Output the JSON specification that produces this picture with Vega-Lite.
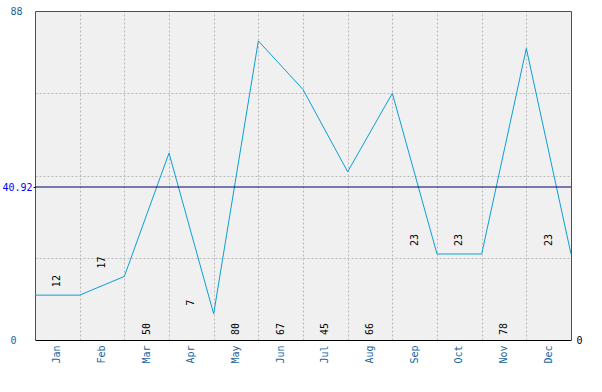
{
  "$schema": "https://vega.github.io/schema/vega-lite/v6.json",
  "width": 536,
  "height": 329,
  "autosize": {"type": "none"},
  "padding": {"left": 35, "top": 11, "right": 31, "bottom": 52},
  "config": {
    "font": "DejaVu Sans Mono",
    "view": {"fill": "#f0f0f0", "stroke": null},
    "axis": {"labelFont": "DejaVu Sans Mono", "labelFontSize": 10, "title": null}
  },
  "datasets": {
    "months": [
      {"month": "Jan", "v": 12}, {"month": "Feb", "v": 17}, {"month": "Mar", "v": 50},
      {"month": "Apr", "v": 7}, {"month": "May", "v": 80}, {"month": "Jun", "v": 67},
      {"month": "Jul", "v": 45}, {"month": "Aug", "v": 66}, {"month": "Sep", "v": 23},
      {"month": "Oct", "v": 23}, {"month": "Nov", "v": 78}, {"month": "Dec", "v": 23}
    ],
    "line": [
      {"x": 0, "v": 12}, {"x": 1, "v": 12}, {"x": 2, "v": 17}, {"x": 3, "v": 50},
      {"x": 4, "v": 7}, {"x": 5, "v": 80}, {"x": 6, "v": 67}, {"x": 7, "v": 45},
      {"x": 8, "v": 66}, {"x": 9, "v": 23}, {"x": 10, "v": 23}, {"x": 11, "v": 78},
      {"x": 12, "v": 23}
    ],
    "mean": [{"mean": 40.92}]
  },
  "layer": [
    {
      "data": {"name": "line"},
      "mark": {"type": "line", "color": "#0a9fd4", "strokeWidth": 1},
      "encoding": {
        "x": {
          "field": "x", "type": "quantitative",
          "scale": {"domain": [0, 12], "nice": false, "zero": false},
          "axis": {
            "orient": "top", "values": [1, 2, 3, 4, 5, 6, 7, 8, 9, 10, 11],
            "grid": true, "gridDash": [2, 2], "gridColor": "#b8b8b8",
            "labels": false, "ticks": false, "domainColor": "#1a5f8c"
          }
        },
        "y": {
          "field": "v", "type": "quantitative",
          "scale": {"domain": [0, 88], "nice": false},
          "axis": {
            "orient": "left",
            "values": [0, 22, 44, 66, 88],
            "labelExpr": "datum.value == 0 || datum.value == 88 ? datum.label : ''",
            "labelAlign": "left",
            "labelBaseline": "middle",
            "labelPadding": 25,
            "labelColor": "#16659c",
            "ticks": false,
            "grid": true,
            "gridDash": [2, 2],
            "gridColor": "#b8b8b8",
            "gridOpacity": {"condition": {"test": "datum.value == 22 || datum.value == 44 || datum.value == 66", "value": 1}, "value": 0},
            "domainColor": "#1a5f8c"
          }
        }
      }
    },
    {
      "data": {"name": "mean"},
      "mark": {"type": "rule", "color": "#000066", "strokeWidth": 1},
      "encoding": {
        "y": {
          "field": "mean", "type": "quantitative",
          "axis": {
            "orient": "left", "values": [40.92], "format": ".2f", "labelColor": "#0000ee",
            "labelAlign": "right", "labelBaseline": "middle", "labelPadding": 1,
            "ticks": true, "tickSize": 2, "tickColor": "#000066",
            "domain": false, "grid": false
          }
        }
      }
    },
    {
      "data": {"name": "months"},
      "transform": [{"filter": "datum.v <= 40.92"}],
      "mark": {"type": "text", "angle": -90, "align": "left", "baseline": "middle", "dx": 8, "fontSize": 10, "color": "#000000"},
      "encoding": {
        "x": {
          "field": "month", "type": "ordinal", "bandPosition": 0.5, "sort": null,
          "scale": {"type": "band", "domain": ["Jan", "Feb", "Mar", "Apr", "May", "Jun", "Jul", "Aug", "Sep", "Oct", "Nov", "Dec"], "paddingInner": 0, "paddingOuter": 0},
          "axis": {
            "orient": "bottom", "labelAngle": -90, "labelAlign": "right", "labelBaseline": "middle",
            "labelPadding": 5, "labelColor": "#16659c", "ticks": false, "grid": false,
            "domainColor": "#000000"
          }
        },
        "y": {
          "field": "v", "type": "quantitative",
          "axis": {
            "orient": "right", "values": [0], "labelColor": "#000000", "labelAlign": "left",
            "labelBaseline": "middle", "labelPadding": 5, "ticks": false, "grid": false,
            "domainColor": "#1a5f8c"
          }
        },
        "text": {"field": "v", "type": "quantitative"}
      }
    },
    {
      "data": {"name": "months"},
      "transform": [{"filter": "datum.v > 40.92"}],
      "mark": {"type": "text", "angle": -90, "align": "left", "baseline": "middle", "dx": 5, "fontSize": 10, "color": "#000000"},
      "encoding": {
        "x": {
          "field": "month", "type": "ordinal", "bandPosition": 0.5, "sort": null,
          "scale": {"type": "band", "domain": ["Jan", "Feb", "Mar", "Apr", "May", "Jun", "Jul", "Aug", "Sep", "Oct", "Nov", "Dec"], "paddingInner": 0, "paddingOuter": 0},
          "axis": null
        },
        "y": {"datum": 0, "type": "quantitative", "axis": null},
        "text": {"field": "v", "type": "quantitative"}
      }
    }
  ],
  "resolve": {"scale": {"x": "independent"}, "axis": {"x": "independent", "y": "independent"}}
}
